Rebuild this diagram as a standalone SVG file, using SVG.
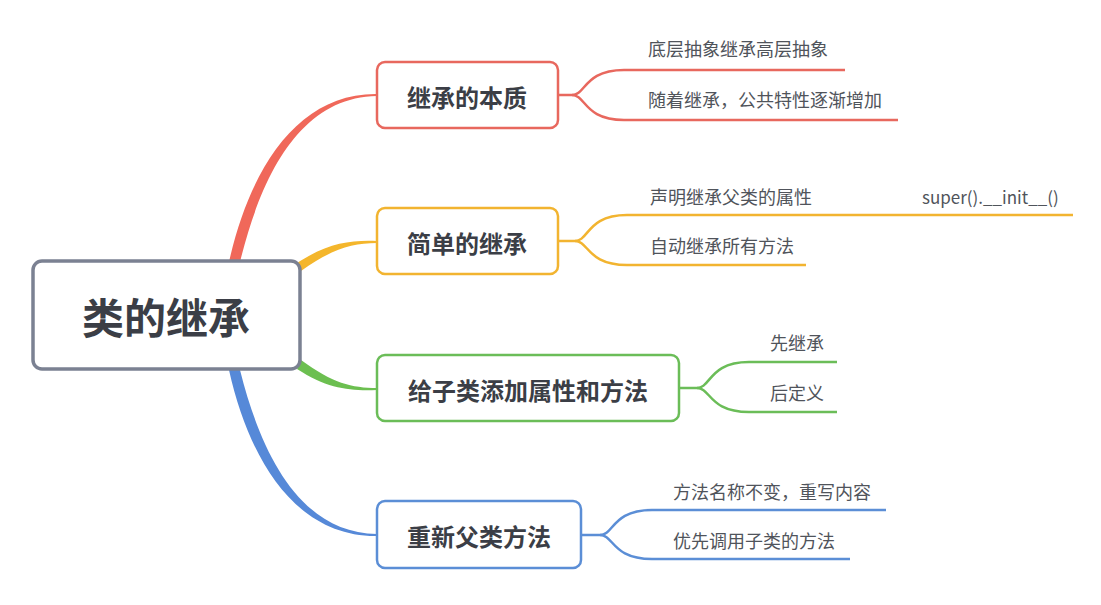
<svg xmlns="http://www.w3.org/2000/svg" width="1101" height="605" viewBox="0 0 1101 605">
<style>
.t{font-family:"Noto Sans CJK SC","Noto Sans",sans-serif;dominant-baseline:central}
.node{font-size:24px;font-weight:bold;fill:#3b3e46;text-anchor:middle}
.root{font-size:42px;font-weight:bold;fill:#3b3e46;text-anchor:middle}
.sub{font-size:18px;fill:#50545b}
.box{fill:#fff;stroke-width:2.5}
.br{fill:none;stroke-width:2.5}
</style>
<rect width="1101" height="605" fill="#fff"/>
<g id="connectors">
<path d="M229 262 C250 168 298 93 377 94 L377 96 C302 97 262 172 240 262 Z" fill="#f0685a"/>
<path d="M297 263 C328 243 350 240 377 241 L377 243 C352 243 332 249 301 271 Z" fill="#f4b62c"/>
<path d="M301 360 C332 383 352 388 377 388 L377 390 C350 391 328 389 297 369 Z" fill="#6cbf50"/>
<path d="M229 370 C250 464 298 537 377 536 L377 534 C302 533 262 458 240 370 Z" fill="#5689d8"/>
<g stroke="#e8685e" class="br">
<path d="M558 95 H572 C586 95 584 70 624 70 H845"/>
<path d="M572 95 C586 95 584 120 624 120 H898"/>
</g>
<g stroke="#f2b430" class="br">
<path d="M558 241 H575 C589 241 587 215 627 215 H1073"/>
<path d="M575 241 C589 241 587 265 627 265 H806"/>
</g>
<g stroke="#6bbd58" class="br">
<path d="M679 388 H697 C711 388 709 362 749 362 H837"/>
<path d="M697 388 C711 388 709 412 749 412 H837"/>
</g>
<g stroke="#5b8ed6" class="br">
<path d="M581 535 H600 C614 535 612 510 652 510 H886"/>
<path d="M600 535 C614 535 612 559 652 559 H850"/>
</g>
</g>
<g id="root">
<rect x="33" y="261" width="267" height="108" rx="9" fill="#fff" stroke="#7b8192" stroke-width="3.5"/>
<text class="t root" x="166" y="315">类的继承</text>
</g>
<g id="n1">
<rect class="box" x="377" y="62" width="181" height="66" rx="8" stroke="#e8685e"/>
<text class="t node" x="467" y="96">继承的本质</text>
</g>
<g id="n2">
<rect class="box" x="377" y="208" width="181" height="66" rx="8" stroke="#f2b430"/>
<text class="t node" x="467" y="242">简单的继承</text>
</g>
<g id="n3">
<rect class="box" x="377" y="355" width="302" height="66" rx="8" stroke="#6bbd58"/>
<text class="t node" x="528" y="389">给子类添加属性和方法</text>
</g>
<g id="n4">
<rect class="box" x="377" y="501" width="204" height="67" rx="8" stroke="#5b8ed6"/>
<text class="t node" x="479" y="535">重新父类方法</text>
</g>
<g id="n1a"><text class="t sub" x="648" y="48">底层抽象继承高层抽象</text></g>
<g id="n1b"><text class="t sub" x="648" y="99">随着继承，公共特性逐渐增加</text></g>
<g id="n2a"><text class="t sub" x="650" y="196">声明继承父类的属性</text></g>
<g id="n2c"><text class="t sub" x="922" y="196" style="font-size:17px">super().__init__()</text></g>
<g id="n2b"><text class="t sub" x="650" y="245">自动继承所有方法</text></g>
<g id="n3a"><text class="t sub" x="770" y="342">先继承</text></g>
<g id="n3b"><text class="t sub" x="770" y="392">后定义</text></g>
<g id="n4a"><text class="t sub" x="673" y="491">方法名称不变，重写内容</text></g>
<g id="n4b"><text class="t sub" x="673" y="540">优先调用子类的方法</text></g>
</svg>
